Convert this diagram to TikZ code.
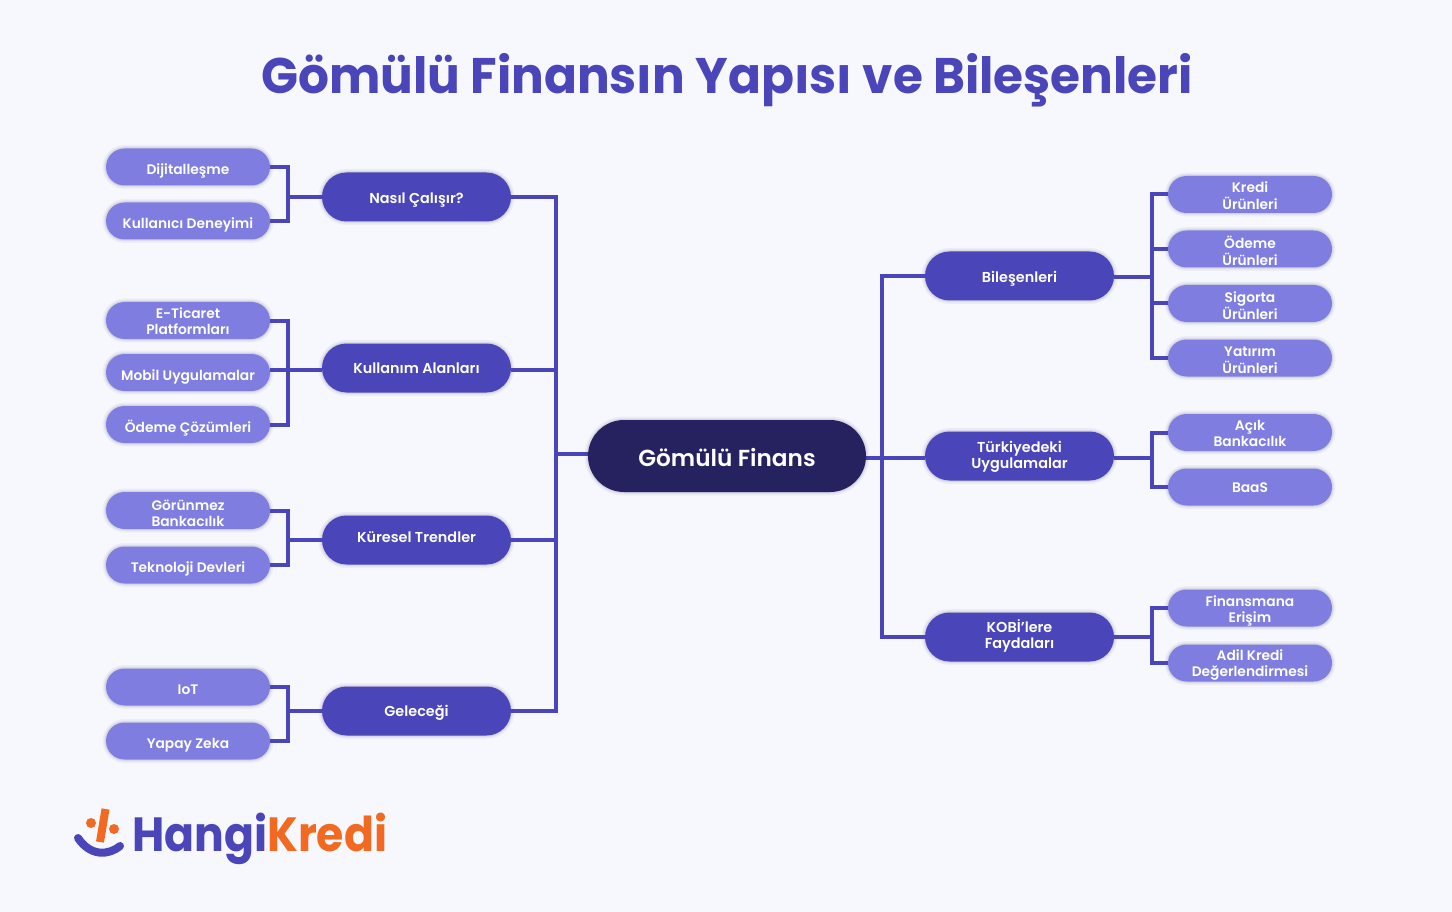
\documentclass[tikz,border=0pt]{standalone}
\usepackage{fontspec}
\usepackage{graphicx}
\usetikzlibrary{shapes.misc}
\setmainfont{Poppins}[BoldFont={Poppins SemiBold}]
\newfontfamily\heavyfont{Poppins Bold}
\definecolor{pagebg}{HTML}{F7F8FE}
\definecolor{leafcol}{HTML}{7F7EE0}
\definecolor{midcol}{HTML}{4A45B8}
\definecolor{rootcol}{HTML}{26215F}
\definecolor{logoor}{HTML}{F26A21}
\newcommand{\lbl}[2]{\raisebox{\dimexpr-#1pt-6pt}[0pt][0pt]{\begin{tabular}{@{}c@{}}#2\end{tabular}}}
\begin{document}
\begin{tikzpicture}%
        [x=1pt, y=-1pt,
        halo/.style={preaction={draw=rootcol,draw opacity=0.05,line width=7pt},
                     preaction={draw=rootcol,draw opacity=0.06,line width=4pt},
                     preaction={draw=rootcol,draw opacity=0.07,line width=2pt}},
        link/.style={color=midcol, line width=4pt},
        leaf/.style={halo, rounded rectangle, fill=leafcol, text=white, minimum width=164pt, minimum height=37pt,
                     inner sep=0pt, font=\bfseries\fontsize{13.8}{16}\selectfont},
        branch/.style={halo, rounded rectangle, fill=midcol, text=white, minimum width=189pt, minimum height=49pt,
                     inner sep=0pt, font=\bfseries\fontsize{14.4}{16}\selectfont},
        root/.style={halo, rounded rectangle, fill=rootcol, text=white, minimum width=278pt, minimum height=72pt,
                     inner sep=0pt, font=\bfseries\fontsize{23.2}{28}\selectfont}]
    %% Page
    \fill[pagebg] (0,0) rectangle (1452,912);
    \node[text=midcol, font=\heavyfont\fontsize{50}{56}\selectfont] (title) at (727,80) {\scalebox{.971}[1]{Gömülü Finansın Yapısı ve Bileşenleri}};
    %%
    %% Joints
    %%
    \coordinate (hubL) at (556,454);
    \coordinate (hubR) at (882,458);
    \coordinate (jNasil) at (288,197);
    \coordinate (jKullanim) at (288,370);
    \coordinate (jKuresel) at (288,540);
    \coordinate (jGelecek) at (288,711);
    \coordinate (jBilesen) at (1152,277);
    \coordinate (jTurkiye) at (1152,458);
    \coordinate (jKobi) at (1152,637);
    %%
    %% Connectors go first, the nodes sit over their ends
    %%
    \coordinate (rootW) at (588,454);
    \coordinate (rootE) at (866,458);
    \draw[link] (hubL) -- (rootW);
    \draw[link] (rootE) -- (hubR);
    %% Drawing the nodes
    \node[root] (gomulu) at (727,456) {\lbl{5}{Gömülü Finans}};
    %
    \node[branch] (nasil) at (416.5,197) {\lbl{1}{Nasıl Çalışır?}};
    \node[branch] (kullanim) at (416.5,368) {\lbl{0}{Kullanım Alanları}};
    \node[branch] (kuresel) at (416.5,540) {\lbl{-3}{Küresel Trendler}};
    \node[branch] (gelecek) at (416.5,711) {\lbl{0}{Geleceği}};
    \node[branch] (bilesen) at (1019.5,276) {\lbl{1}{Bileşenleri}};
    \node[branch] (turkiye) at (1019.5,456) {\lbl{-1}{Türkiyedeki\\Uygulamalar}};
    \node[branch] (kobi) at (1019.5,637) {\lbl{-2.5}{KOBİ'lere\\Faydaları}};
    %
    \node[leaf] (dijital) at (188,167) {\lbl{2}{Dijitalleşme}};
    \node[leaf] (deneyim) at (188,221) {\lbl{2}{Kullanıcı Deneyimi}};
    \node[leaf] (eticaret) at (188,320.5) {\lbl{.5}{E-Ticaret\\Platformları}};
    \node[leaf] (mobil) at (188,372.5) {\lbl{2.5}{Mobil Uygulamalar}};
    \node[leaf] (odeme) at (188,424.5) {\lbl{1.5}{Ödeme Çözümleri}};
    \node[leaf] (gorunmez) at (188,510.5) {\lbl{2.5}{Görünmez\\Bankacılık}};
    \node[leaf] (teknoloji) at (188,565) {\lbl{2}{Teknoloji Devleri}};
    \node[leaf] (iot) at (188,687) {\lbl{2}{IoT}};
    \node[leaf] (yapay) at (188,741) {\lbl{2}{Yapay Zeka}};
    %
    \node[leaf] (kredi) at (1250,194.5) {\lbl{.5}{Kredi\\Ürünleri}};
    \node[leaf] (odemeU) at (1250,249) {\lbl{2}{Ödeme\\Ürünleri}};
    \node[leaf] (sigorta) at (1250,303.5) {\lbl{1.5}{Sigorta\\Ürünleri}};
    \node[leaf] (yatirim) at (1250,358) {\lbl{1}{Yatırım\\Ürünleri}};
    \node[leaf] (acik) at (1250,432.5) {\lbl{.5}{Açık\\Bankacılık}};
    \node[leaf] (baas) at (1250,487) {\lbl{0}{BaaS}};
    \node[leaf] (erisim) at (1250,608) {\lbl{1}{Finansmana\\Erişim}};
    \node[leaf] (adil) at (1250,663) {\lbl{0}{Adil Kredi\\Değerlendirmesi}};
    %% Left side
    \draw[link] (nasil.east) -| (hubL);
    \draw[link] (jKullanim -| kullanim.east) -| (hubL);
    \draw[link] (kuresel.east) -| (hubL);
    \draw[link] (gelecek.east) -| (hubL);
    \draw[link] (dijital.east) -| (jNasil) -- (nasil.west);
    \draw[link] (deneyim.east) -| (jNasil);
    \draw[link] (eticaret.east) -| (jKullanim) -- (jKullanim -| kullanim.west);
    \draw[link] (jKullanim -| mobil.east) -- (jKullanim);
    \draw[link] (odeme.east) -| (jKullanim);
    \draw[link] (gorunmez.east) -| (jKuresel) -- (kuresel.west);
    \draw[link] (teknoloji.east) -| (jKuresel);
    \draw[link] (iot.east) -| (jGelecek) -- (gelecek.west);
    \draw[link] (yapay.east) -| (jGelecek);
    %% Right side
    \draw[link] (hubR) |- (bilesen.west);
    \draw[link] (hubR) -- (hubR -| turkiye.west);
    \draw[link] (hubR) |- (kobi.west);
    \draw[link] (jBilesen -| bilesen.east) -- (jBilesen);
    \draw[link] (jBilesen) |- (kredi.west);
    \draw[link] (jBilesen) |- (odemeU.west);
    \draw[link] (jBilesen) |- (sigorta.west);
    \draw[link] (jBilesen) |- (yatirim.west);
    \draw[link] (jTurkiye -| turkiye.east) -- (jTurkiye);
    \draw[link] (jTurkiye) |- (acik.west);
    \draw[link] (jTurkiye) |- (baas.west);
    \draw[link] (kobi.east) -- (jKobi);
    \draw[link] (jKobi) |- (erisim.west);
    \draw[link] (jKobi) |- (adil.west);
    %% Logo
    \draw[midcol, line width=8pt, line cap=round] (78,838) .. controls (90,856) and (108,856) .. (120,846);
    \draw[logoor, line width=8pt] (105.5,809) -- (100,842);
    \fill[logoor] (91,823) circle (5pt);
    \fill[logoor] (114,829) circle (5pt);
    \node[anchor=base west, inner sep=0pt, font=\heavyfont\fontsize{48}{50}\selectfont] (logo) at (132,851)
        {\scalebox{.92}[1]{\textcolor{midcol}{Hangi}\textcolor{logoor}{Kredi}}};
    \end{tikzpicture}
\end{document}
